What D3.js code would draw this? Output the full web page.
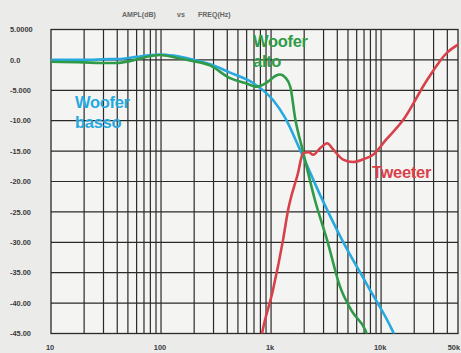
<!DOCTYPE html>
<html>
<head>
<meta charset="utf-8">
<script src="https://cdn.jsdelivr.net/npm/d3@7"></script>
<style>
  html, body { margin: 0; padding: 0; background: #ebebe9; }
  svg { display: block; }
</style>
</head>
<body>
<svg id="chart" width="461" height="353"></svg>
<script>
// Frequency response of a three-way system: [frequency Hz, level dB]
const wooferBasso = [
  [10, 0.0], [20, 0.0], [30, 0.1], [45, 0.2], [60, 0.5], [80, 0.8], [100, 0.9],
  [130, 0.7], [170, 0.3], [220, -0.2], [280, -0.7], [424, -2.1], [686, -3.8],
  [1042, -6.6], [1340, -9.5], [1836, -14.8], [2790, -22.2], [4416, -29.6],
  [7464, -37.0], [12590, -44.4], [13500, -45.6]
];
const wooferAlto = [
  [10, -0.3], [20, -0.4], [28, -0.5], [40, -0.5], [52, -0.2], [79, 0.6], [98, 0.8],
  [134, 0.4], [183, -0.1], [278, -0.9], [424, -3.0], [580, -3.8], [747, -4.4],
  [950, -3.5], [1100, -2.6], [1208, -2.4], [1350, -2.9], [1500, -4.5], [1652, -9.5],
  [1954, -15.1], [2500, -23.0], [3228, -29.6], [4236, -37.3], [5500, -41.5],
  [7160, -44.4], [7600, -45.6]
];
const tweeter = [
  [800, -46.5], [828, -45.0], [1042, -37.8], [1285, -29.6], [1428, -24.7],
  [1758, -18.6], [1954, -15.3], [2200, -15.2], [2410, -15.6], [2800, -14.5],
  [3228, -13.7], [3700, -14.8], [4516, -16.4], [5564, -16.8], [7000, -16.3],
  [8455, -15.6], [11000, -13.2], [15850, -9.9], [26180, -3.3], [39800, 1.2],
  [50000, 2.5]
];

const yTicks = [5, 0, -5, -10, -15, -20, -25, -30, -35, -40, -45];
const yTickLabels = ["5.0000", "0.0", "-5.000", "-10.00", "-15.00", "-20.00",
                     "-25.00", "-30.00", "-35.00", "-40.00", "-45.00"];
const xTicks = [10, 100, 1000, 10000, 50000];
const xTickLabels = ["10", "100", "1k", "10k", "50k"];
const titleParts = ["AMPL(dB)", "vs", "FREQ(Hz)"];

const svg = d3.select("#chart");
const plotL = 51, plotR = 458, plotT = 29.5, plotB = 333.5;

const x = d3.scaleLog().domain([10, 50000]).range([plotL, plotR]);
const y = d3.scaleLinear().domain([-45, 5]).range([plotB, plotT]);

// plot background
svg.append("rect").attr("x", plotL).attr("y", plotT)
  .attr("width", plotR - plotL).attr("height", plotB - plotT)
  .attr("fill", "#f4f4f2");

// vertical grid: every 1-2-...-9 of each decade
const vGrid = [];
for (let d = 10; d <= 10000; d *= 10) {
  for (let m = 1; m <= 9; m++) {
    const f = d * m;
    if (f > 10 && f < 50000) vGrid.push(f);
  }
}

const grid = svg.append("g").attr("stroke", "#2a2a2a").attr("stroke-width", 1.2);
grid.selectAll("line.v").data(vGrid).join("line")
  .attr("class", "v")
  .attr("x1", d => x(d)).attr("x2", d => x(d))
  .attr("y1", plotT).attr("y2", plotB);
grid.selectAll("line.h").data(yTicks.filter(t => t > -45 && t < 5)).join("line")
  .attr("class", "h")
  .attr("x1", plotL).attr("x2", plotR)
  .attr("y1", d => y(d)).attr("y2", d => y(d));
svg.append("rect").attr("x", plotL).attr("y", plotT)
  .attr("width", plotR - plotL).attr("height", plotB - plotT)
  .attr("fill", "none").attr("stroke", "#2a2a2a").attr("stroke-width", 1.3);

// axis labels
const tickFont = "Liberation Sans, Arial, sans-serif";
svg.append("g").selectAll("text").data(yTicks).join("text")
  .attr("x", 10).attr("y", d => y(d) + 2.6)
  .attr("font-family", tickFont).attr("font-size", 7.4).attr("font-weight", "bold")
  .attr("fill", "#3a3a3a")
  .text((d, i) => yTickLabels[i]);
svg.append("g").selectAll("text").data(xTicks).join("text")
  .attr("x", (d, i) => i === xTicks.length - 1 ? 460 : x(d) - 1).attr("y", 350)
  .attr("text-anchor", (d, i) => i === xTicks.length - 1 ? "end" : "middle")
  .attr("font-family", tickFont).attr("font-size", 7.4).attr("font-weight", "bold")
  .attr("fill", "#3a3a3a")
  .text((d, i) => xTickLabels[i]);

// title
const titleX = [122, 177, 198];
svg.append("g").selectAll("text").data(titleParts).join("text")
  .attr("x", (d, i) => titleX[i]).attr("y", 16.5)
  .attr("font-family", tickFont).attr("font-size", 7).attr("font-weight", "bold")
  .attr("fill", "#666")
  .text(d => d);

// response curves
svg.append("clipPath").attr("id", "plotClip")
  .append("rect").attr("x", plotL).attr("y", plotT)
  .attr("width", plotR - plotL).attr("height", plotB - plotT);

const line = d3.line()
  .x(d => x(d[0])).y(d => y(d[1]))
  .curve(d3.curveMonotoneX);

const curves = svg.append("g").attr("clip-path", "url(#plotClip)")
  .attr("fill", "none").attr("stroke-width", 2.6)
  .attr("stroke-linejoin", "round").attr("stroke-linecap", "round");

const series = [
  { data: wooferBasso, color: "#27a9df" },
  { data: wooferAlto, color: "#2f9a47" },
  { data: tweeter, color: "#d8414a" }
];
curves.selectAll("path").data(series).join("path")
  .attr("d", d => line(d.data))
  .attr("stroke", d => d.color);

// series names
const labelFont = "Liberation Sans, Arial, sans-serif";
const labels = [
  { lines: ["Woofer", "basso"], x: 75, y: 108, color: "#27a9df" },
  { lines: ["Woofer", "alto"], x: 253, y: 47, color: "#2f9a47" },
  { lines: ["Tweeter"], x: 372, y: 178, color: "#d8414a" }
];
labels.forEach(l => {
  const t = svg.append("text")
    .attr("font-family", labelFont).attr("font-size", 16.5).attr("font-weight", "bold")
    .attr("letter-spacing", -0.3)
    .attr("fill", l.color);
  l.lines.forEach((s, i) => {
    t.append("tspan").attr("x", l.x).attr("y", l.y + i * 20).text(s);
  });
});
</script>
</body>
</html>
